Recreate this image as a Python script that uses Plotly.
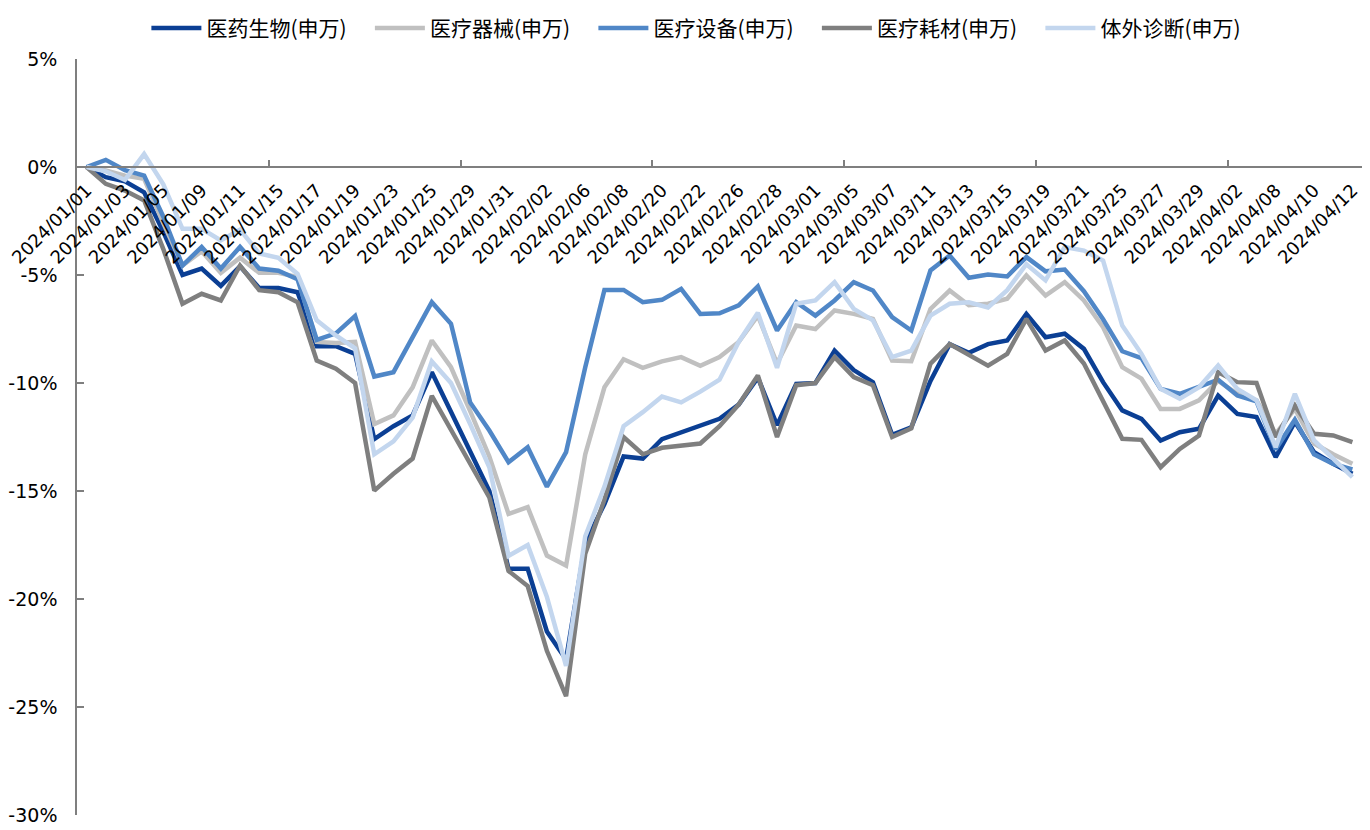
import plotly.graph_objects as go

dates = [
    "2024/01/01", "2024/01/02", "2024/01/03", "2024/01/04", "2024/01/05", "2024/01/08",
    "2024/01/09", "2024/01/10", "2024/01/11", "2024/01/12", "2024/01/15", "2024/01/16",
    "2024/01/17", "2024/01/18", "2024/01/19", "2024/01/22", "2024/01/23", "2024/01/24",
    "2024/01/25", "2024/01/26", "2024/01/29", "2024/01/30", "2024/01/31", "2024/02/01",
    "2024/02/02", "2024/02/05", "2024/02/06", "2024/02/07", "2024/02/08", "2024/02/19",
    "2024/02/20", "2024/02/21", "2024/02/22", "2024/02/23", "2024/02/26", "2024/02/27",
    "2024/02/28", "2024/02/29", "2024/03/01", "2024/03/04", "2024/03/05", "2024/03/06",
    "2024/03/07", "2024/03/08", "2024/03/11", "2024/03/12", "2024/03/13", "2024/03/14",
    "2024/03/15", "2024/03/18", "2024/03/19", "2024/03/20", "2024/03/21", "2024/03/22",
    "2024/03/25", "2024/03/26", "2024/03/27", "2024/03/28", "2024/03/29", "2024/04/01",
    "2024/04/02", "2024/04/03", "2024/04/08", "2024/04/09", "2024/04/10", "2024/04/11",
    "2024/04/12",
]

tick_labels = [
    "2024/01/01", "2024/01/03", "2024/01/05", "2024/01/09", "2024/01/11", "2024/01/15",
    "2024/01/17", "2024/01/19", "2024/01/23", "2024/01/25", "2024/01/29", "2024/01/31",
    "2024/02/02", "2024/02/06", "2024/02/08", "2024/02/20", "2024/02/22", "2024/02/26",
    "2024/02/28", "2024/03/01", "2024/03/05", "2024/03/07", "2024/03/11", "2024/03/13",
    "2024/03/15", "2024/03/19", "2024/03/21", "2024/03/25", "2024/03/27", "2024/03/29",
    "2024/04/02", "2024/04/08", "2024/04/10", "2024/04/12",
]

# cumulative change, %
yiyao_shengwu = [
    0, -0.47, -0.66, -1.17, -3.0, -5.0, -4.7, -5.5, -4.6, -5.6, -5.6, -5.8,
    -8.3, -8.3, -8.65, -12.6, -12.0, -11.5, -9.5, -11.3, -13.2, -15.0, -18.6, -18.6,
    -21.5, -22.8, -17.4, -15.6, -13.4, -13.5, -12.6, -12.3, -11.95, -11.66, -11.0, -9.75,
    -11.95, -10.04, -10.0, -8.5, -9.4, -9.96, -12.4, -12.05, -9.9, -8.2, -8.6, -8.2,
    -8.03, -6.8, -7.88, -7.72, -8.42, -9.96, -11.27, -11.66, -12.66, -12.28, -12.12, -10.58,
    -11.43, -11.58, -13.43, -11.8, -13.2, -13.74, -14.2,
]
yiliao_qixie = [
    0, -0.16, -0.4, -0.55, -2.6, -4.56, -3.9, -4.9, -4.2, -4.9, -4.9, -5.1,
    -8.1, -8.15, -8.1, -11.9, -11.5, -10.2, -8.03, -9.27, -11.3, -13.4, -16.06, -15.75,
    -17.99, -18.45, -13.3, -10.2, -8.9, -9.3, -9.0, -8.8, -9.2, -8.8, -8.1, -6.88,
    -9.1, -7.34, -7.5, -6.64, -6.8, -7.03, -8.96, -8.99, -6.57, -5.72, -6.4, -6.33,
    -6.1, -5.02, -5.95, -5.33, -6.18, -7.42, -9.27, -9.8, -11.2, -11.2, -10.8, -9.9,
    -10.5, -10.8, -12.35, -11.2, -12.8, -13.3, -13.74,
]
yiliao_shebei = [
    0, 0.33, -0.15, -0.4, -2.3, -4.56, -3.7, -4.7, -3.7, -4.7, -4.8, -5.2,
    -8.0, -7.7, -6.9, -9.7, -9.5, -7.9, -6.26, -7.26, -10.9, -12.2, -13.67, -12.97,
    -14.8, -13.2, -9.27, -5.69, -5.69, -6.26, -6.15, -5.64, -6.8, -6.77, -6.4, -5.53,
    -7.57, -6.26, -6.88, -6.18, -5.33, -5.72, -6.95, -7.57, -4.79, -4.1, -5.13, -4.98,
    -5.07, -4.17, -4.83, -4.75, -5.75, -7.05, -8.53, -8.85, -10.27, -10.5, -10.15, -9.85,
    -10.58, -10.85, -13.07, -11.7, -13.3, -13.75, -14.0,
]
yiliao_haocai = [
    0, -0.78, -1.09, -1.55, -3.8, -6.33, -5.87, -6.18, -4.56, -5.7, -5.8, -6.26,
    -8.96, -9.34, -10.0, -14.98, -14.2, -13.5, -10.6, -12.2, -13.7, -15.3, -18.7, -19.4,
    -22.4, -24.5, -17.9, -15.4, -12.5, -13.3, -13.0, -12.9, -12.8, -12.0, -11.0, -9.65,
    -12.5, -10.1, -10.0, -8.8, -9.73, -10.1, -12.5, -12.1, -9.1, -8.2, -8.7, -9.2,
    -8.65, -7.03, -8.5, -8.03, -9.1, -10.8, -12.58, -12.63, -13.9, -13.05, -12.43, -9.5,
    -9.96, -10.0, -12.5, -11.04, -12.35, -12.43, -12.74,
]
tiwai_zhenduan = [
    0, -0.2, -0.6, 0.6, -0.8, -2.86, -2.86, -3.4, -2.9, -4.0, -4.2, -4.95,
    -7.1, -7.8, -8.4, -13.3, -12.7, -11.6, -9.0, -10.0, -11.9, -13.9, -18.0, -17.5,
    -19.9, -23.1, -17.1, -14.8, -12.0, -11.35, -10.63, -10.9, -10.4, -9.85, -8.1, -6.75,
    -9.3, -6.33, -6.18, -5.33, -6.57, -7.1, -8.8, -8.5, -6.88, -6.33, -6.26, -6.5,
    -5.7, -4.5, -5.25, -3.7, -3.87, -4.33, -7.34, -8.65, -10.27, -10.73, -10.2, -9.19,
    -10.27, -10.8, -12.97, -10.5, -12.66, -13.5, -14.36,
]

series_names = ["医药生物(申万)", "医疗器械(申万)", "医疗设备(申万)", "医疗耗材(申万)", "体外诊断(申万)"]
series_values = [yiyao_shengwu, yiliao_qixie, yiliao_shebei, yiliao_haocai, tiwai_zhenduan]
series_colors = ["#0B3F94", "#C0C0C0", "#5087C7", "#7F7F7F", "#C3D6EE"]

y_ticks = [5, 0, -5, -10, -15, -20, -25, -30]
y_tick_labels = ["5%", "0%", "-5%", "-10%", "-15%", "-20%", "-25%", "-30%"]
minor_marks = [9.5, 19.5, 29.5, 39.5, 49.5, 59.5]

AXIS_COLOR = "#7F7F7F"
Y_TICK_FONT = dict(family="DejaVu Sans, Verdana, sans-serif", size=19, color="#000000")
X_TICK_FONT = dict(family="DejaVu Sans, Verdana, sans-serif", size=18, color="#000000")
zero_pos = (0 - y_ticks[-1]) / (y_ticks[0] - y_ticks[-1])

fig = go.Figure()
for name, vals, col in zip(series_names, series_values, series_colors):
    fig.add_trace(go.Scatter(
        x=dates, y=vals, name=name, mode="lines",
        line=dict(color=col, width=4.5),
    ))

# helper axis that only carries the category-group tick marks
fig.add_trace(go.Scatter(x=[], y=[], xaxis="x2", showlegend=False, hoverinfo="skip"))

fig.update_layout(
    width=1362, height=822,
    margin=dict(l=69, r=8, t=51, b=15, autoexpand=False),
    plot_bgcolor="white", paper_bgcolor="white",
    showlegend=True,
    legend=dict(
        orientation="h", x=0.054, xanchor="left", y=1.0675, yanchor="top",
        font=dict(family="Noto Sans CJK SC", size=21, color="#000000"),
        itemwidth=50, entrywidth=158.5, entrywidthmode="pixels",
        bgcolor="rgba(0,0,0,0)", tracegroupgap=0, borderwidth=0,
    ),
    xaxis=dict(
        type="category", range=[-0.5, len(dates) - 0.5],
        anchor="free", position=zero_pos, automargin=False,
        showline=True, linecolor=AXIS_COLOR, linewidth=1.5,
        tickvals=tick_labels, ticktext=tick_labels, tickangle=-45,
        ticks="", showgrid=False, zeroline=False, tickfont=X_TICK_FONT,
        ticklabelstandoff=5,
    ),
    xaxis2=dict(
        overlaying="x", anchor="free", position=zero_pos, automargin=False,
        range=[-0.5, len(dates) - 0.5], type="linear",
        tickvals=minor_marks, ticks="inside", ticklen=7, tickwidth=1.5, tickcolor=AXIS_COLOR,
        showticklabels=False, showline=False, showgrid=False, zeroline=False,
    ),
    yaxis=dict(
        range=[y_ticks[-1], y_ticks[0]], domain=[0, 1], automargin=False,
        tickvals=y_ticks, ticktext=y_tick_labels,
        showline=True, linecolor=AXIS_COLOR, linewidth=1.5,
        ticks="inside", ticklen=7, tickwidth=1.5, tickcolor=AXIS_COLOR,
        showgrid=False, zeroline=False, tickfont=Y_TICK_FONT,
        ticklabelstandoff=14,
    ),
)

fig.write_html("out.html")
